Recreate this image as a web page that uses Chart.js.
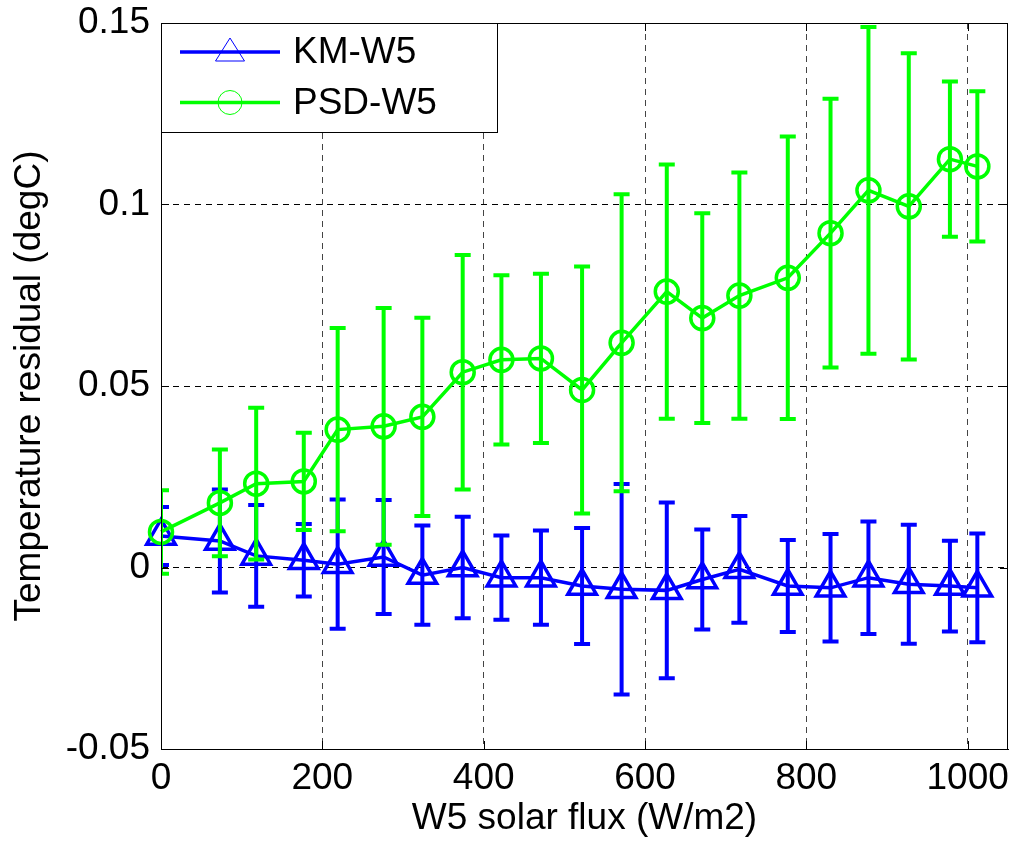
<!DOCTYPE html>
<html>
<head>
<meta charset="utf-8">
<title>Temperature residual vs W5 solar flux</title>
<script src="https://cdn.jsdelivr.net/npm/chart.js@4.4.1/dist/chart.umd.min.js"></script>
<style>
    body { margin: 0; background: #fff; }
    canvas { display: block; }
</style>
</head>
<body>
<canvas id="residualChart" width="1013" height="841"></canvas>
<script>
// W5 solar flux bin centres (W/m2)
let solarFlux = [0, 73, 118, 177, 219, 276, 324, 374, 422, 471, 522, 571, 627, 671, 717, 777, 830, 877, 927, 978, 1012];

// KM-W5 residual and error bar half-width (degC)
let kmResidual = [0.0087, 0.0073, 0.0032, 0.0020, 0.0009, 0.0029, -0.0021, 0.0000, -0.0028, -0.0028, -0.0051,
    -0.0060, -0.0063, -0.0033, -0.0005, -0.0051, -0.0056, -0.0028, -0.0046, -0.0051, -0.0056];
let kmError = [0.0080, 0.0142, 0.0140, 0.0100, 0.0178, 0.0157, 0.0137, 0.0140, 0.0116, 0.0130, 0.0160,
    0.0290, 0.0242, 0.0138, 0.0147, 0.0127, 0.0148, 0.0155, 0.0164, 0.0125, 0.0150];

// PSD-W5 residual and error bar half-width (degC)
let psdResidual = [0.0098, 0.0178, 0.0231, 0.0237, 0.0380, 0.0389, 0.0415, 0.0538, 0.0572, 0.0576, 0.0489,
    0.0619, 0.0760, 0.0687, 0.0749, 0.0798, 0.0921, 0.1039, 0.0995, 0.1125, 0.1105];
let psdError = [0.0115, 0.0147, 0.0209, 0.0134, 0.0280, 0.0326, 0.0273, 0.0323, 0.0233, 0.0233, 0.0340,
    0.0409, 0.0350, 0.0289, 0.0339, 0.0389, 0.0370, 0.0450, 0.0422, 0.0214, 0.0207];

let xTicks = [0, 200, 400, 600, 800, 1000];
let xTickLabels = ["0", "200", "400", "600", "800", "1000"];
let yTicks = [-0.05, 0, 0.05, 0.1, 0.15];
let yTickLabels = ["-0.05", "0", "0.05", "0.1", "0.15"];

let fontFamily = "'Liberation Sans', Arial, sans-serif";

function toPoints(xs, ys) {
    return xs.map((x, i) => ({ x: x, y: ys[i] }));
}

// Error bars, drawn just before the dataset's own line and markers
let errorBarPlugin = {
    id: "errorBars",
    beforeDatasetDraw(chart, args) {
        let ds = chart.data.datasets[args.index];
        if (!ds.errors) return;
        let ctx = chart.ctx;
        let area = chart.chartArea;
        let xScale = chart.scales.x;
        let yScale = chart.scales.y;

        ctx.save();
        ctx.beginPath();
        ctx.rect(area.left, area.top, area.right - area.left, area.bottom - area.top);
        ctx.clip();
        ctx.strokeStyle = ds.borderColor;
        ctx.lineWidth = 4;
        ds.data.forEach((p, i) => {
            let px = xScale.getPixelForValue(p.x);
            let top = yScale.getPixelForValue(p.y + ds.errors[i]);
            let bottom = yScale.getPixelForValue(p.y - ds.errors[i]);
            ctx.beginPath();
            ctx.moveTo(px, top);
            ctx.lineTo(px, bottom);
            ctx.moveTo(px - 8, top);
            ctx.lineTo(px + 8, top);
            ctx.moveTo(px - 8, bottom);
            ctx.lineTo(px + 8, bottom);
            ctx.stroke();
        });
        ctx.restore();
    }
};

// Box round the axes, inward tick marks and the legend
let framePlugin = {
    id: "frame",
    afterDraw(chart) {
        let ctx = chart.ctx;
        let area = chart.chartArea;
        let xScale = chart.scales.x;
        let yScale = chart.scales.y;

        ctx.save();
        ctx.strokeStyle = "#000";
        ctx.lineWidth = 1;
        ctx.beginPath();
        xScale.ticks.forEach(t => {
            let px = Math.round(xScale.getPixelForValue(t.value)) + 0.5;
            ctx.moveTo(px, area.bottom);
            ctx.lineTo(px, area.bottom - 8);
            ctx.moveTo(px, area.top);
            ctx.lineTo(px, area.top + 8);
        });
        yScale.ticks.forEach(t => {
            let py = Math.round(yScale.getPixelForValue(t.value)) + 0.5;
            ctx.moveTo(area.left, py);
            ctx.lineTo(area.left + 8, py);
            ctx.moveTo(area.right, py);
            ctx.lineTo(area.right - 8, py);
        });
        ctx.stroke();
        ctx.strokeRect(Math.round(area.left) + 0.5, Math.round(area.top) + 0.5,
            Math.round(area.right - area.left) - 1, Math.round(area.bottom - area.top));

        // legend
        let lx = area.left;
        let ly = area.top;
        ctx.fillStyle = "#fff";
        ctx.fillRect(lx, ly, 336, 109);
        ctx.strokeRect(lx + 0.5, ly + 0.5, 336, 109);

        let rows = chart.data.datasets.map((ds, i) => ({ ds: ds, y: ly + 29 + i * 50.5 }));
        rows.forEach(row => {
            ctx.strokeStyle = row.ds.borderColor;
            ctx.lineWidth = 3.5;
            ctx.beginPath();
            ctx.moveTo(lx + 19, row.y);
            ctx.lineTo(lx + 119, row.y);
            ctx.stroke();

            ctx.lineWidth = 1;
            ctx.beginPath();
            let cx = lx + 69;
            if (row.ds.pointStyle === "triangle") {
                ctx.moveTo(cx, row.y - 14);
                ctx.lineTo(cx + 14.5, row.y + 9);
                ctx.lineTo(cx - 14.5, row.y + 9);
                ctx.closePath();
            } else {
                ctx.arc(cx, row.y, 12, 0, Math.PI * 2);
            }
            ctx.stroke();

            ctx.fillStyle = "#000";
            ctx.font = "37px " + fontFamily;
            ctx.textBaseline = "middle";
            ctx.textAlign = "left";
            ctx.fillText(row.ds.label, lx + 132, row.y + 1);
        });
        ctx.restore();
    }
};

let ctx = document.getElementById("residualChart").getContext("2d");

let myChart = new Chart(ctx, {
    type: "line",
    data: {
        datasets: [{
            label: "KM-W5",
            data: toPoints(solarFlux, kmResidual),
            errors: kmError,
            borderColor: "#0000ff",
            borderWidth: 3.5,
            pointStyle: "triangle",
            pointRadius: 16.5,
            pointBorderWidth: 3.5,
            pointBorderColor: "#0000ff",
            pointBackgroundColor: "rgba(0,0,0,0)",
            tension: 0,
            clip: false,
            order: 2
        }, {
            label: "PSD-W5",
            data: toPoints(solarFlux, psdResidual),
            errors: psdError,
            borderColor: "#00ff00",
            borderWidth: 3.5,
            pointStyle: "circle",
            pointRadius: 11.5,
            pointBorderWidth: 3.5,
            pointBorderColor: "#00ff00",
            pointBackgroundColor: "rgba(0,0,0,0)",
            tension: 0,
            clip: false,
            order: 1
        }]
    },
    options: {
        responsive: false,
        animation: false,
        devicePixelRatio: 1,
        layout: {
            autoPadding: false,
            padding: { top: 23, right: 5, left: 0, bottom: 0 }
        },
        plugins: {
            legend: { display: false },
            tooltip: { enabled: false }
        },
        scales: {
            x: {
                type: "linear",
                min: 0,
                max: 1050,
                afterBuildTicks: scale => { scale.ticks = xTicks.map(v => ({ value: v })); },
                afterFit: scale => {
                    scale.height = 92;
                    scale.paddingLeft = 0;
                    scale.paddingRight = 0;
                },
                ticks: {
                    color: "#000",
                    padding: 8,
                    maxRotation: 0,
                    font: { family: fontFamily, size: 37 },
                    callback: (value, index) => xTickLabels[index]
                },
                grid: { color: "#444", lineWidth: 1, drawTicks: false },
                border: { display: true, color: "#000", width: 1, dash: [6, 5] },
                title: {
                    display: true,
                    text: "W5 solar flux (W/m2)",
                    color: "#000",
                    font: { family: fontFamily, size: 37 },
                    padding: { top: 0, bottom: 0 }
                }
            },
            y: {
                type: "linear",
                min: -0.05,
                max: 0.15,
                afterBuildTicks: scale => { scale.ticks = yTicks.map(v => ({ value: v })); },
                afterFit: scale => {
                    scale.width = 161;
                    scale.paddingTop = 0;
                    scale.paddingBottom = 0;
                },
                ticks: {
                    color: "#000",
                    padding: 11,
                    font: { family: fontFamily, size: 37 },
                    callback: (value, index) => yTickLabels[index]
                },
                grid: { color: "#000", lineWidth: 1, drawTicks: false },
                border: { display: true, color: "#000", width: 1, dash: [6, 5] },
                title: {
                    display: true,
                    text: "Temperature residual (degC)",
                    color: "#000",
                    font: { family: fontFamily, size: 37 },
                    padding: { top: 8, bottom: 0 }
                }
            }
        }
    },
    plugins: [errorBarPlugin, framePlugin]
});
</script>
</body>
</html>
